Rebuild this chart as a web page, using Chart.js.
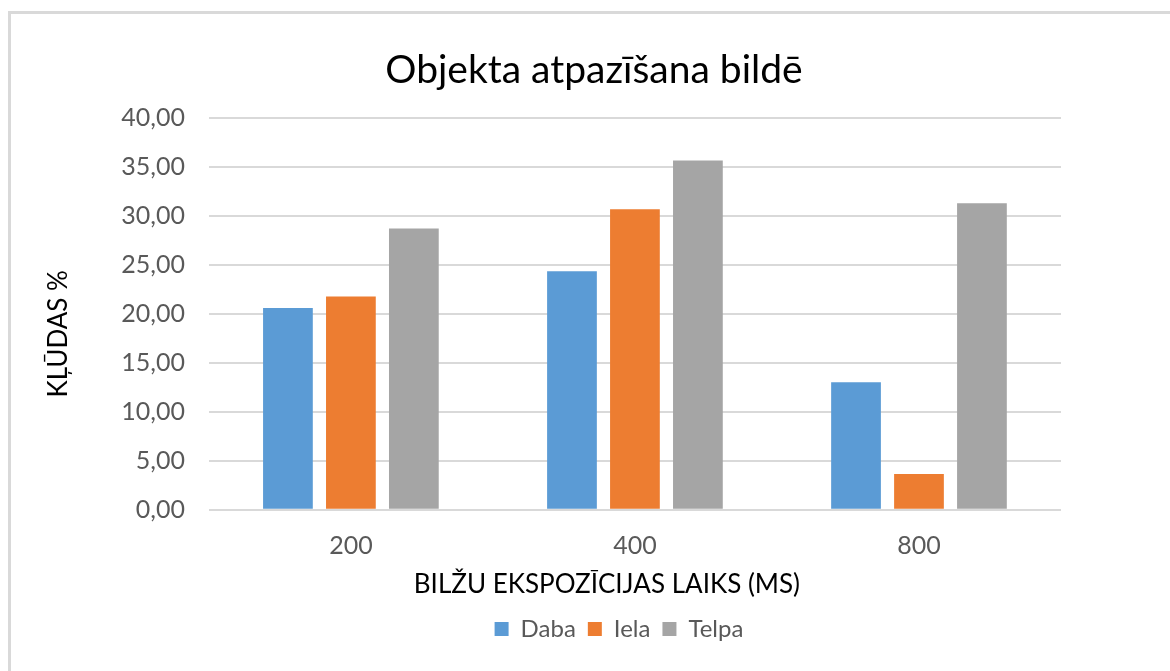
<!DOCTYPE html>
<html>
<head>
<meta charset="utf-8">
<script src="https://cdn.jsdelivr.net/npm/chart.js@4.4.0/dist/chart.umd.min.js"></script>
<style>
  html, body { margin: 0; padding: 0; background: #fff; overflow: hidden; }
  #frame {
    position: absolute; left: 8px; top: 11px; width: 1200px; height: 700px;
    border-left: 3px solid #d9d9d9; border-top: 3px solid #d9d9d9;
  }
  #wrap { position: absolute; left: 0; top: 0; width: 1170px; height: 671px; }
</style>
</head>
<body>
<div id="frame"></div>
<div id="wrap"><canvas id="chart"></canvas></div>
<script>
var categories = ['200', '400', '800'];
var daba = [20.58, 24.33, 13.01];
var iela = [21.77, 30.67, 3.66];
var telpa = [28.70, 35.65, 31.28];
var yTicks = [0, 5, 10, 15, 20, 25, 30, 35, 40];

var fontName = 'Lato, "Open Sans", sans-serif';

// Excel centres the title, legend and axis titles a bit differently than Chart.js
function shiftDraw(obj, method, dx, dy) {
    var orig = obj[method];
    obj[method] = function() {
        this.ctx.save();
        this.ctx.translate(dx, dy);
        orig.apply(this, arguments);
        this.ctx.restore();
    };
}
var excelOffsets = {
    id: 'excelOffsets',
    afterInit: function(chart) {
        shiftDraw(chart.titleBlock, 'draw', 42, 0);
        shiftDraw(chart.legend, 'draw', 67, 0);
    },
    afterLayout: function(chart) {
        if (!chart.scales.x._shifted) {
            shiftDraw(chart.scales.x, 'drawTitle', -28, -5);
            shiftDraw(chart.scales.y, 'drawTitle', 0, 20);
            chart.scales.x._shifted = true;
        }
    }
};

new Chart(document.getElementById('chart').getContext('2d'), {
    type: 'bar',
    data: {
        labels: categories,
        datasets: [
            { label: 'Daba', data: daba, backgroundColor: '#5B9BD5' },
            { label: 'Iela', data: iela, backgroundColor: '#ED7D31' },
            { label: 'Telpa', data: telpa, backgroundColor: '#A5A5A5' }
        ]
    },
    plugins: [excelOffsets],
    options: {
        responsive: true,
        maintainAspectRatio: false,
        animation: false,
        layout: { padding: { left: 43, right: 109, top: 47, bottom: 20 } },
        datasets: { bar: { categoryPercentage: 0.665, barPercentage: 0.79 } },
        plugins: {
            title: {
                display: true,
                text: 'Objekta atpazīšana bildē',
                color: '#000',
                font: { family: fontName, size: 39, weight: 'normal' },
                padding: { top: 0, bottom: 24 }
            },
            legend: {
                position: 'bottom',
                labels: {
                    boxWidth: 14, boxHeight: 14,
                    color: '#595959',
                    font: { family: fontName, size: 24 },
                    padding: 12
                }
            },
            tooltip: { enabled: false }
        },
        scales: {
            x: {
                grid: { display: false },
                border: { display: false },
                ticks: { color: '#595959', font: { family: fontName, size: 25 }, padding: 13 },
                title: {
                    display: true,
                    text: 'BILŽU EKSPOZĪCIJAS LAIKS (MS)',
                    color: '#000',
                    font: { family: fontName, size: 26 },
                    padding: { top: 0, bottom: 0 }
                }
            },
            y: {
                min: 0, max: 40,
                afterBuildTicks: function(axis) {
                    axis.ticks = yTicks.map(function(v) { return { value: v }; });
                },
                grid: { color: '#d9d9d9', lineWidth: 2, drawTicks: false },
                border: { display: false },
                ticks: {
                    color: '#595959',
                    font: { family: fontName, size: 25 },
                    padding: 24,
                    callback: function(v) { return v.toFixed(2).replace('.', ','); }
                },
                title: {
                    display: true,
                    text: 'KĻŪDAS %',
                    color: '#000',
                    font: { family: fontName, size: 26 },
                    padding: { top: 0, bottom: 23 }
                }
            }
        }
    }
});
</script>
</body>
</html>
